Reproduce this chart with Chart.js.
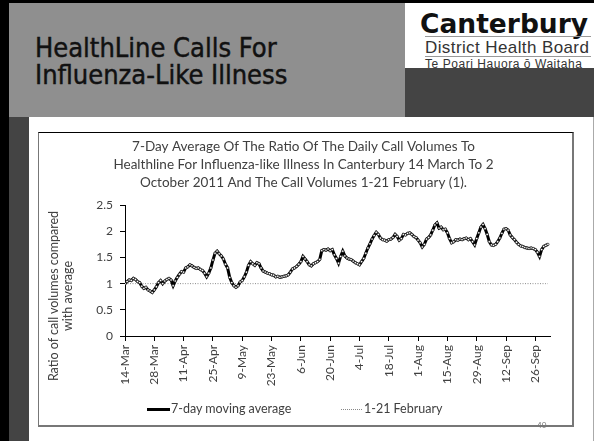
<!DOCTYPE html>
<html>
<head>
<meta charset="utf-8">
<script src="https://cdn.jsdelivr.net/npm/chart.js@4.4.0/dist/chart.umd.min.js"></script>
<style>
html, body { margin: 0; padding: 0; }
body { width: 594px; height: 441px; background: #000; position: relative; overflow: hidden; font-family: Lato, sans-serif; }
div { position: absolute; box-sizing: border-box; }
.titlebar { left: 9px; top: 3px; width: 396px; height: 114px; background: #8f8f8f; }
.slidetitle { left: 35px; top: 34px; font-family: "DejaVu Sans Condensed", sans-serif; font-size: 27px; line-height: 27px; color: #111; white-space: nowrap; -webkit-text-stroke: 0.45px #111; }
.logo { left: 405px; top: 3px; width: 189px; height: 65px; background: #fff; }
.logo div { white-space: nowrap; color: #333; font-family: "Liberation Sans", Arial, sans-serif; }
.logodark { left: 405px; top: 68px; width: 189px; height: 49px; background: #444; }
.strip { left: 9px; top: 117px; width: 20px; height: 324px; background: #444; }
.page { left: 29px; top: 117px; width: 564px; height: 324px; background: #fff; }
.edge { left: 593px; top: 117px; width: 1px; height: 324px; background: #aaa; }
.cbox { left: 38px; top: 132px; width: 536px; height: 295px; border-top: 1px solid #000; border-left: 1px solid #777; border-right: 2px solid #777; border-bottom: 2px solid #777; }
.holder { left: 39px; top: 133px; width: 534px; height: 293px; }
.ytitle { left: -39px; top: 282px; width: 200px; height: 28px; font-size: 12.5px; line-height: 14px; color: #404040; text-align: center; transform: rotate(-90deg); white-space: nowrap; }
.leg { font-size: 12.5px; color: #404040; white-space: nowrap; line-height: 14px; }
.num { left: 537px; top: 420px; font-size: 8px; color: #777; }
</style>
</head>
<body>
<div class="titlebar"></div>
<div class="slidetitle">HealthLine Calls For<br>Influenza-Like Illness</div>
<div class="logo">
  <div style="left:15px;top:5px;font-family:'DejaVu Sans',sans-serif;font-weight:bold;font-size:26.5px;color:#111;">Canterbury</div>
  <div style="left:20px;top:33px;width:166px;height:1px;background:#999;"></div>
  <div style="left:20px;top:35px;font-size:17px;letter-spacing:0.4px;">District Health Board</div>
  <div style="left:20px;top:53px;width:166px;height:1px;background:#999;"></div>
  <div style="left:20px;top:54px;font-size:12px;letter-spacing:0.55px;">Te Poari Hauora ō Waitaha</div>
</div>
<div class="logodark"></div>
<div class="strip"></div>
<div class="page"></div>
<div class="edge"></div>
<div class="cbox"></div>
<div class="holder"><canvas id="chart"></canvas></div>
<div class="ytitle">Ratio of call volumes compared<br>with average</div>
<div style="left:147px;top:408px;width:23px;height:3px;background:#000;"></div>
<div class="leg" style="left:171px;top:402px;">7-day moving average</div>
<div style="left:341px;top:409px;width:21px;height:0;border-top:1px dotted #888;"></div>
<div class="leg" style="left:364px;top:402px;">1-21 February</div>
<div class="num">40</div>

<script>
// 7-day average ratio, one value per day from 14 March to 2 October 2011
var avg7 = [
  1.00, 1.04, 1.07, 1.06, 1.10, 1.08, 1.04, 1.02, 0.95, 0.91,
  0.93, 0.88, 0.86, 0.83, 0.88, 0.94, 1.02, 1.06, 1.00, 1.05,
  1.08, 1.10, 1.07, 0.96, 1.05, 1.12, 1.18, 1.23, 1.22, 1.30,
  1.32, 1.36, 1.34, 1.31, 1.29, 1.30, 1.27, 1.25, 1.20, 1.13,
  1.20, 1.30, 1.45, 1.58, 1.62, 1.57, 1.53, 1.47, 1.37, 1.30,
  1.12, 1.02, 0.96, 0.93, 0.96, 1.03, 1.06, 1.13, 1.22, 1.35,
  1.42, 1.38, 1.35, 1.40, 1.38, 1.30, 1.24, 1.22, 1.20, 1.19,
  1.17, 1.16, 1.13, 1.14, 1.12, 1.13, 1.14, 1.15, 1.17, 1.22,
  1.28, 1.30, 1.33, 1.37, 1.42, 1.52, 1.47, 1.42, 1.36, 1.34,
  1.38, 1.40, 1.42, 1.46, 1.63, 1.65, 1.64, 1.66, 1.63, 1.65,
  1.55, 1.48, 1.39, 1.52, 1.62, 1.53, 1.49, 1.47, 1.46, 1.43,
  1.40, 1.38, 1.36, 1.42, 1.48, 1.58, 1.68, 1.76, 1.85, 1.92,
  1.98, 1.94, 1.87, 1.84, 1.83, 1.81, 1.84, 1.85, 1.88, 1.94,
  1.90, 1.83, 1.86, 1.94, 1.93, 1.96, 1.97, 1.94, 1.90, 1.88,
  1.83, 1.78, 1.70, 1.75, 1.85, 1.88, 1.93, 2.02, 2.12, 2.16,
  2.06, 2.08, 2.03, 2.04, 1.97, 1.86, 1.78, 1.80, 1.84, 1.83,
  1.85, 1.84, 1.86, 1.87, 1.84, 1.86, 1.80, 1.74, 1.86, 1.97,
  2.08, 2.13, 2.05, 1.94, 1.80, 1.74, 1.73, 1.75, 1.80, 1.87,
  1.96, 2.04, 2.05, 2.02, 1.93, 1.88, 1.84, 1.79, 1.75, 1.72,
  1.71, 1.69, 1.68, 1.67, 1.68, 1.67, 1.65, 1.60, 1.52, 1.65,
  1.71, 1.73, 1.75
]
// 1-21 February call volumes are the baseline, ratio 1
var febRatio = 1
var tickLabels = ['14-Mar', '28-Mar', '11-Apr', '25-Apr', '9-May', '23-May', '6-Jun',
  '20-Jun', '4-Jul', '18-Jul', '1-Aug', '15-Aug', '29-Aug', '12-Sep', '26-Sep']
var tickStep = 14
var titleLines = [
  '7-Day Average Of The Ratio Of The Daily Call Volumes To',
  'Healthline For Influenza-like Illness In Canterbury 14 March To 2',
  'October 2011 And The Call Volumes 1-21 February (1).'
]

var days = avg7.map((v, i) => i)

Chart.defaults.font.family = 'Lato'
Chart.defaults.color = '#404040'

var chart = new Chart(document.getElementById('chart'), {
  type: 'line',
  data: {
    labels: days,
    datasets: [{
      label: '7-day moving average',
      data: avg7,
      borderColor: '#000',
      borderWidth: 3,
      pointRadius: 1.2,
      pointBorderWidth: 0.6,
      pointBackgroundColor: '#fff',
      pointBorderColor: '#000',
      tension: 0
    }, {
      label: '1-21 February',
      data: avg7.map(() => febRatio),
      borderColor: '#8a8a8a',
      borderWidth: 1,
      borderDash: [1, 1.5],
      pointRadius: 0
    }]
  },
  options: {
    responsive: true,
    maintainAspectRatio: false,
    animation: false,
    layout: { padding: { left: 18, right: 23, top: 0, bottom: 0 } },
    plugins: {
      legend: { display: false },
      tooltip: { enabled: false },
      title: {
        display: true,
        text: titleLines,
        color: '#404040',
        font: { size: 13.5, weight: 'normal', lineHeight: 1.36 },
        padding: { top: 4, bottom: 13 }
      }
    },
    scales: {
      x: {
        type: 'linear',
        min: 0,
        max: 203,
        afterBuildTicks: s => { s.ticks = tickLabels.map((t, i) => ({ value: i * tickStep })) },
        afterFit: s => { s.height = 90 },
        ticks: {
          autoSkip: false,
          minRotation: 90,
          maxRotation: 90,
          padding: 4,
          font: { size: 12 },
          callback: v => tickLabels[v / tickStep]
        },
        grid: { drawOnChartArea: false, tickLength: 5, color: '#000' },
        border: { color: '#000' }
      },
      y: {
        min: 0,
        max: 2.5,
        afterFit: s => { s.width = 68 },
        ticks: { stepSize: 0.5, padding: 7, font: { size: 12 }, callback: v => String(v) },
        grid: { drawOnChartArea: false, tickLength: 5, color: '#000' },
        border: { color: '#000' }
      }
    }
  }
})
</script>
</body>
</html>
